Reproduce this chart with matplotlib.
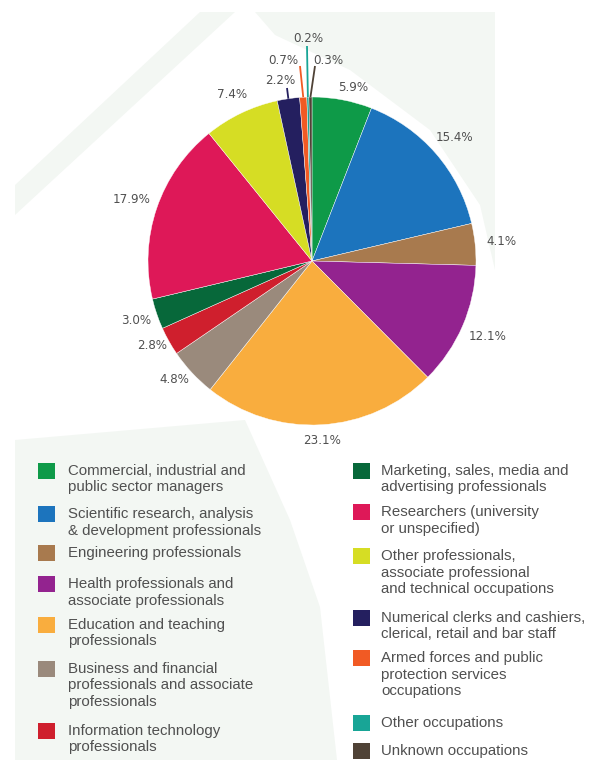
import numpy as np
import matplotlib
matplotlib.use("Agg")
import matplotlib.pyplot as plt
from matplotlib.patches import Polygon, Rectangle

# Share of graduates by occupation group (%), clockwise from 12 o'clock
occupations = [
    "Commercial, industrial and\npublic sector managers",
    "Scientific research, analysis\n& development professionals",
    "Engineering professionals",
    "Health professionals and\nassociate professionals",
    "Education and teaching\nprofessionals",
    "Business and financial\nprofessionals and associate\nprofessionals",
    "Information technology\nprofessionals",
    "Marketing, sales, media and\nadvertising professionals",
    "Researchers (university\nor unspecified)",
    "Other professionals,\nassociate professional\nand technical occupations",
    "Numerical clerks and cashiers,\nclerical, retail and bar staff",
    "Armed forces and public\nprotection services\noccupations",
    "Other occupations",
    "Unknown occupations",
]
shares = [5.9, 15.4, 4.1, 12.1, 23.1, 4.8, 2.8, 3.0, 17.9, 7.4, 2.2, 0.7, 0.2, 0.3]
colors = [
    "#0e9a48", "#1c74bd", "#a87a4e", "#93238f", "#f9ad3e", "#9a8a7c", "#cf1f2d",
    "#07683a", "#de1858", "#d6dd24", "#241f5f", "#f15a24", "#18a596", "#4f4236",
]

W, H = 610, 760
fig = plt.figure(figsize=(W / 100, H / 100), dpi=100)
ax = fig.add_axes([0, 0, 1, 1])


def py(y):
    """Convert a top-down pixel row to the axes' bottom-up y."""
    return H - y


# Faint background swooshes
bg = "#f3f7f3"
for pts in [
    [(15, 185), (15, 215), (235, 12), (200, 12)],
    [(255, 12), (495, 12), (495, 270), (480, 205), (430, 130), (350, 70), (275, 35)],
    [(15, 440), (245, 420), (290, 520), (320, 607), (337, 760), (15, 760)],
]:
    ax.add_patch(Polygon([(x, py(y)) for x, y in pts], closed=True,
                         facecolor=bg, edgecolor="none", zorder=0))

# Pie
cx, cy, R = 312, 261, 164
wedges, _ = ax.pie(shares, colors=colors, startangle=90, counterclock=False,
                   center=(cx, py(cy)), radius=R, frame=True,
                   wedgeprops=dict(linewidth=0.3, edgecolor="white"))
ax.set_xlim(0, W)
ax.set_ylim(0, H)
ax.set_aspect("equal")
ax.axis("off")

label_kw = dict(fontsize=8.6, color="#505050", ha="center", va="center",
                family="DejaVu Sans", zorder=5)

# Thin slices get labels stacked above the pie with leader lines
small_label_pos = {10: (280, 80), 11: (283, 60), 12: (308, 38), 13: (328, 60)}
leader_tip = {10: (287, 88), 11: (300, 66), 12: (307, 46), 13: (315, 66)}
# Hand nudges (px) for crowded outer labels
nudge = {0: (8, 3), 4: (0, 3), 5: (0, -10), 6: (6, -9), 7: (5, -2)}

for i, (w, v) in enumerate(zip(wedges, shares)):
    mid = np.deg2rad((w.theta1 + w.theta2) / 2)
    c, s = np.cos(mid), np.sin(mid)
    txt = f"{v:.1f}%"
    if i in small_label_pos:
        ex, ey = cx + R * c, py(cy) + R * s
        tx, ty = leader_tip[i]
        ax.plot([ex, tx], [ey, py(ty)], color=colors[i], lw=1.3,
                solid_capstyle="butt", zorder=4)
        lx, ly = small_label_pos[i]
        ax.text(lx, py(ly), txt, **label_kw)
    else:
        d = R + 6 + abs(c) * 20 + abs(s) * 6
        dx, dy = nudge.get(i, (0, 0))
        ax.text(cx + d * c + dx, py(cy) + d * s - dy, txt, **label_kw)

# Legend, two columns
col_x = [(38, 68), (353, 381)]
rows = [
    (471, 0), (514, 0), (553, 0), (584, 0), (625, 0), (669, 0), (731, 0),
    (471, 1), (512, 1), (556, 1), (618, 1), (658, 1), (723, 1), (751, 1),
]
lead = 16.5
for i, (row, col) in enumerate(rows):
    sx, tx = col_x[col]
    ax.add_patch(Rectangle((sx, py(row + 8)), 17, 16, facecolor=colors[i],
                           edgecolor="none", zorder=3))
    for j, line in enumerate(occupations[i].split("\n")):
        ax.text(tx, py(row + j * lead), line, fontsize=10.8, color="#505050",
                ha="left", va="center", family="Liberation Sans", zorder=3)

fig.savefig("out.png", dpi=100, facecolor="white")
